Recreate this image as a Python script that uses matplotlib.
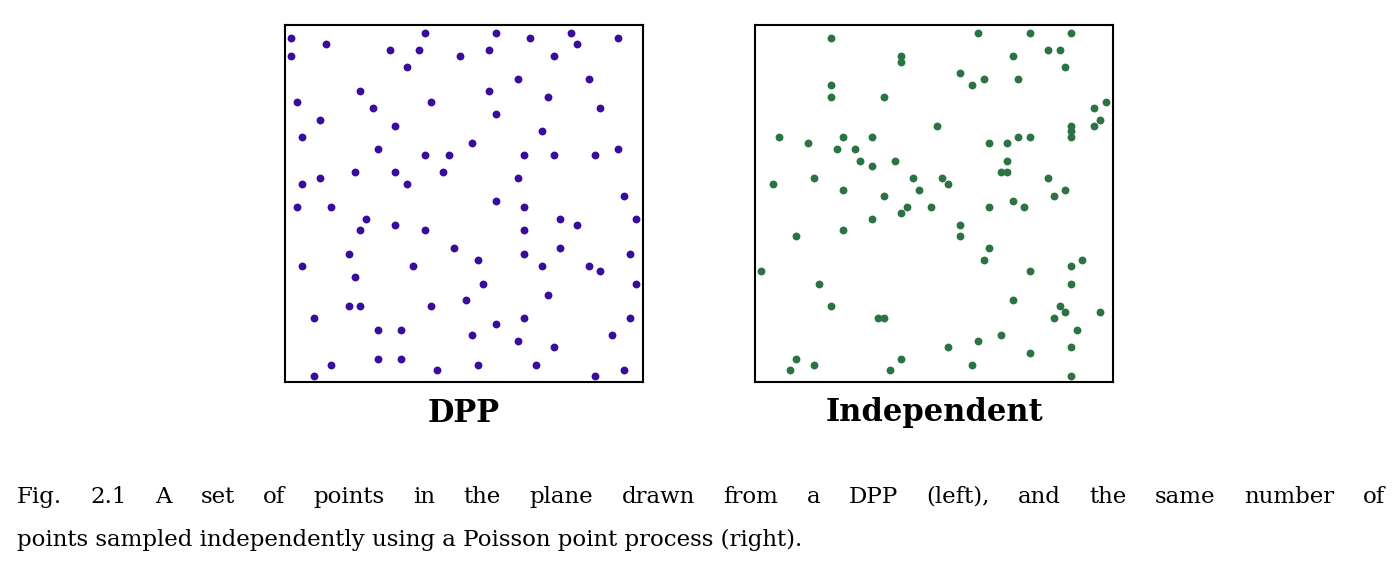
import matplotlib
matplotlib.use("Agg")
import matplotlib.pyplot as plt

dpp_x = [33,435,646,750,872,1013,137,890,33,329,417,540,627,820,381,714,926,241,627,802,50,452,278,960,
         646,119,346,786,67,575,294,1013,435,505,732,820,943,224,346,487,119,714,67,381,1031,646,50,154,732,
         259,838,1066,346,890,241,435,732,522,838,207,732,1048,592,67,400,786,926,960,224,609,1066,802,557,
         207,241,452,101,732,1048,646,294,364,575,995,714,820,294,364,154,592,768,470,1031,101,943]
dpp_y = [55,38,38,55,38,55,72,72,107,90,90,107,90,107,142,178,178,212,212,230,247,247,265,265,
         283,300,318,335,352,370,387,387,405,405,405,405,405,458,458,458,475,475,492,492,528,545,563,563,563,
         598,598,598,615,615,632,632,632,686,686,703,703,703,720,738,738,738,738,755,772,792,792,826,843,
         860,860,860,895,895,895,913,931,931,948,948,966,983,1018,1018,1036,1036,1036,1053,1053,1071,1071]

ind_x = [242,682,840,962,453,453,892,928,787,944,628,664,700,804,242,242,401,1068,1032,1050,1032,559,962,962,962,
         86,279,366,804,840,174,716,769,260,314,331,436,769,366,751,769,191,488,575,892,68,594,279,506,944,401,910,
         787,471,541,716,822,453,366,628,279,138,628,716,700,996,962,34,840,208,962,787,242,928,944,1050,383,401,910,
         980,752,682,594,962,840,138,453,191,664,120,419,962]
ind_y = [55,38,38,38,107,125,90,90,107,142,160,195,178,178,195,230,230,247,265,300,318,318,318,335,352,
         352,352,352,352,352,370,370,370,387,387,423,423,423,440,458,458,475,475,475,475,492,492,510,510,510,528,528,
         545,563,563,563,563,580,598,615,632,650,650,686,720,720,738,755,755,792,792,843,860,860,878,878,895,895,895,
         931,948,966,983,983,1000,1018,1018,1036,1036,1053,1053,1071]

titles = ["DPP", "Independent"]
caption = ["Fig. 2.1  A set of points in the plane drawn from a DPP (left), and the same number of",
           "points sampled independently using a Poisson point process (right)."]

W, H = 1400, 567
fig = plt.figure(figsize=(14, 5.67), dpi=100)
serif = ["DejaVu Serif"]
specs = [(0.2036, dpp_x, dpp_y, "#3a0c9e"), (0.5393, ind_x, ind_y, "#2b7343")]
for (left, xs, ys, c), t in zip(specs, titles):
    ax = fig.add_axes([left, 0.3263, 0.2557, 0.6296])
    ax.scatter(xs, ys, s=32, color=c, linewidths=0)
    ax.set_xlim(15, 1088)
    ax.set_ylim(1088, 15)
    ax.set_xticks([]); ax.set_yticks([])
    for sp in ax.spines.values():
        sp.set_linewidth(1.5)
    fig.text(left + 0.2557 / 2, 1 - 413 / H, t, ha="center", va="center",
             fontsize=22, fontweight="bold", family=serif)

fs = 16.5
# line 1: justified between x=17 and x=1385
renderer = fig.canvas.get_renderer()
words = caption[0].split()
widths = []
for w in words:
    tt = fig.text(0, 0, w, fontsize=fs, family=serif)
    widths.append(tt.get_window_extent(renderer).width)
    tt.remove()
gap = (1385 - 17 - sum(widths)) / (len(words) - 1)
x = 17
for w, wd in zip(words, widths):
    fig.text(x / W, 1 - 497 / H, w, ha="left", va="center", fontsize=fs, family=serif)
    x += wd + gap
fig.text(17 / W, 1 - 540 / H, caption[1], ha="left", va="center", fontsize=fs, family=serif)
fig.savefig("out.png", dpi=100)
